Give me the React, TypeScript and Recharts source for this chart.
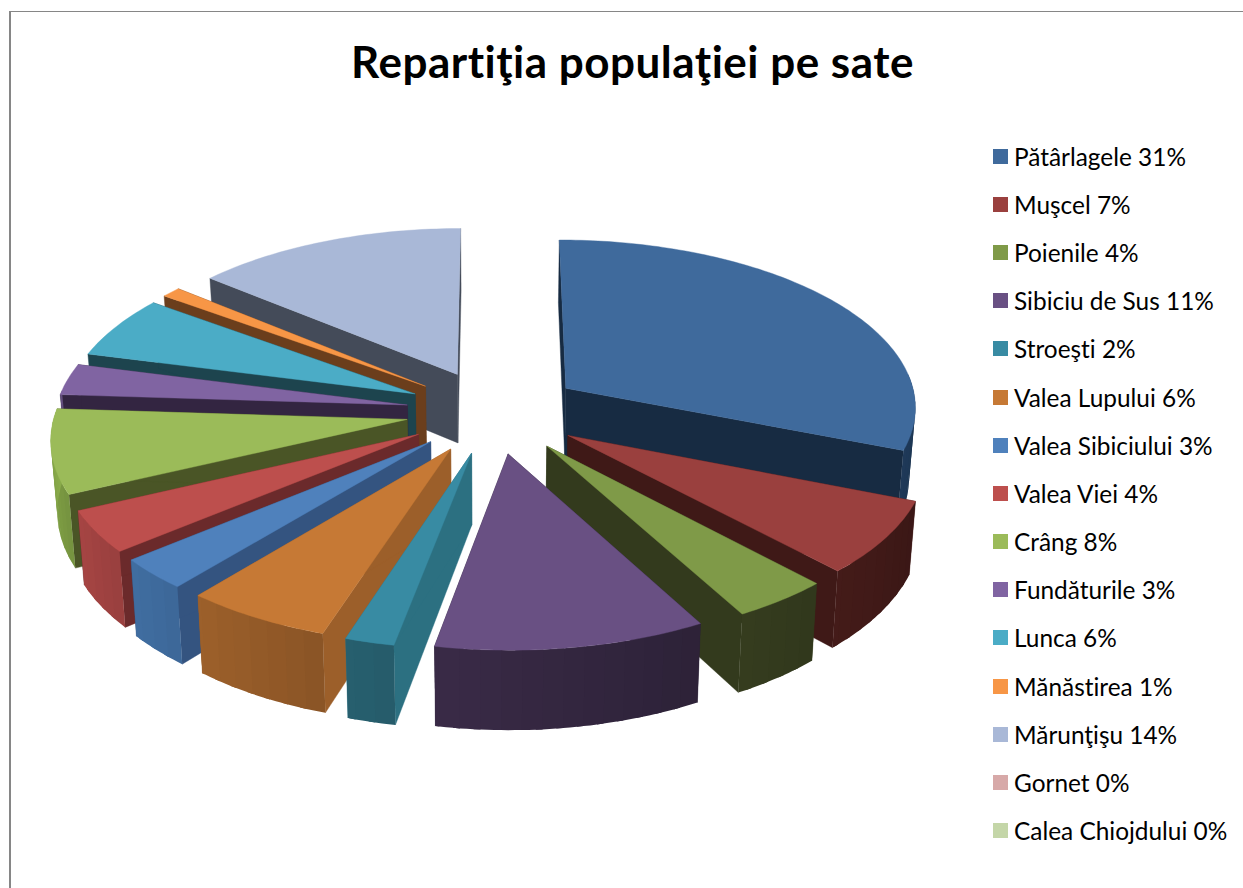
import React from "react";
import { PieChart, Pie, Legend } from "recharts";

const TITLE = "Repartiţia populaţiei pe sate";
const NAMES = ["Pătârlagele", "Muşcel", "Poienile", "Sibiciu de Sus", "Stroeşti", "Valea Lupului", "Valea Sibiciului", "Valea Viei", "Crâng", "Fundăturile", "Lunca", "Mănăstirea", "Mărunţişu", "Gornet", "Calea Chiojdului"];
const VALUES = [31, 7, 4, 11, 2, 6, 3, 4, 8, 3, 6, 1, 14, 0, 0];
const TOP_COLORS = ["#3F6A9C", "#9A403E", "#7F9A48", "#695083", "#388BA3", "#C67935", "#4F81BC", "#BD4F4D", "#9BBB59", "#8064A2", "#4BACC6", "#F79646", "#A9B8D7", "#D7A9A8", "#C4D6A8"];
const WALL_COLORS = ["#172B42", "#3F1917", "#333A1D", "#2A2137", "#2C7081", "#9C5F2A", "#345480", "#6B2A2B", "#4A5526", "#332541", "#1D444E", "#6B3E1C", "#444B59", "#888888", "#888888"];
const OUTER_COLORS = ["#172B42", "#3F1917", "#333A1D", "#33263F", "#265D6C", "#935A28", "#3E6A9C", "#9F4241", "#80A045", "#665082", "#3C8A9E", "#C67838", "#8793AC", "#888888", "#888888"];

const data = NAMES.map((name, i) => ({
  name,
  label: `${name} ${VALUES[i]}%`,
  value: VALUES[i],
  fill: TOP_COLORS[i],
  wall: WALL_COLORS[i],
  outer: OUTER_COLORS[i],
}));
const reversedData = [...data].reverse();

// 3D view of the pie
const TILT = 0.476;
const EXPLODE = 0.25;
const PERSPECTIVE = 0.1;
const DEPTH = 70;
const BOTTOM_SHRINK = 0.985;
const rad = (d: number) => (d * Math.PI) / 180;

function shade(hex: string, k: number) {
  const n = parseInt(hex.slice(1), 16);
  const c = [(n >> 16) & 255, (n >> 8) & 255, n & 255].map((v) => Math.max(0, Math.min(255, Math.round(v * k))));
  return `rgb(${c[0]},${c[1]},${c[2]})`;
}

function pathOf(pts: number[][]) {
  return "M" + pts.map((p) => `${p[0].toFixed(1)},${p[1].toFixed(1)}`).join("L") + "Z";
}

function makeSliceShape(side: "right" | "left") {
  return function SliceShape(props: any) {
    const { cx, cy, outerRadius, startAngle, endAngle } = props;
    const entry = props.payload ?? props;
    const wall = entry.wall ?? props.wall;
    const outer = entry.outer ?? props.outer;
    const fill = entry.fill ?? props.fill;
    let a = 90 - Math.max(startAngle, endAngle);
    let b = 90 - Math.min(startAngle, endAngle);
    if (a < 0) { a += 360; b += 360; }
    if (b - a < 0.01) return <g />;
    const mid = (a + b) / 2;
    if ((side === "right") !== mid < 180) return <g />;

    const ex = EXPLODE * Math.sin(rad(mid));
    const ey = -EXPLODE * Math.cos(rad(mid));
    const top = (X: number, Y: number) => {
      const wx = X + ex, wy = Y + ey, den = 1 - PERSPECTIVE * wy;
      return [cx + (wx * outerRadius) / den, cy + (wy * outerRadius * TILT) / den];
    };
    const bottom = (X: number, Y: number) => {
      const wx = X + ex, wy = Y + ey, den = 1 - PERSPECTIVE * wy;
      return [cx + (wx * outerRadius * BOTTOM_SHRINK) / den, cy + (wy * outerRadius * TILT) / den + DEPTH / den];
    };
    const rim = (t: number) => [Math.sin(rad(t)), -Math.cos(rad(t))];

    const arc: number[][] = [];
    for (let t = a; t < b; t += 1) arc.push(rim(t));
    arc.push(rim(b));

    const startR = rim(a), endR = rim(b);
    const wallPath = (r: number[]) => pathOf([top(0, 0), top(r[0], r[1]), bottom(r[0], r[1]), bottom(0, 0)]);

    // only the part of the rim that faces the viewer is drawn, in overlapping bands
    const segs: React.ReactNode[] = [];
    const step = 3;
    const from = Math.max(a, 85);
    const to = Math.min(b, 275);
    for (let t = from; t < to; t += step) {
      const t2 = Math.min(to, t + step + 1);
      const pts: number[][] = [];
      const lower: number[][] = [];
      for (let u = t; u < t2; u += 1) { const r = rim(u); pts.push(top(r[0], r[1])); lower.push(bottom(r[0], r[1])); }
      const r2 = rim(t2);
      pts.push(top(r2[0], r2[1]));
      lower.push(bottom(r2[0], r2[1]));
      const col = shade(outer, 1 + ((t + t2) / 2 - mid) * 0.006);
      segs.push(<path key={t} d={pathOf([...pts, ...lower.reverse()])} fill={col} />);
    }

    return (
      <g>
        <path d={wallPath(startR)} fill={wall} stroke={wall} strokeWidth={0.4} />
        <path d={wallPath(endR)} fill={wall} stroke={wall} strokeWidth={0.4} />
        {segs}
        <path d={pathOf([top(0, 0), ...arc.map((r) => top(r[0], r[1]))])} fill={fill} stroke={fill} strokeWidth={0.4} />
      </g>
    );
  };
}

const RightShape = makeSliceShape("right");
const LeftShape = makeSliceShape("left");

function LegendList() {
  return (
    <div style={{ fontFamily: "Lato, sans-serif", fontSize: 24.4, color: "#000", fontVariantLigatures: "none" }}>
      {data.map((d) => (
        <div key={d.name} style={{ height: 48.2, display: "flex", alignItems: "center", whiteSpace: "nowrap" }}>
          <span style={{ width: 15, height: 15, background: d.fill, marginRight: 6, flex: "none" }} />
          <span>{d.label}</span>
        </div>
      ))}
    </div>
  );
}

export default function App() {
  return (
    <div style={{ position: "absolute", left: 0, top: 0, width: 1243, height: 888, overflow: "hidden", background: "#fff" }}>
      <div style={{ position: "absolute", left: 9, top: 11, width: 1240, height: 880, borderLeft: "2px solid #868686", borderTop: "1px solid #868686" }} />
      <div style={{ position: "absolute", left: 0, top: 36, width: 1265, textAlign: "center", fontFamily: "Lato, sans-serif", fontWeight: 700, fontSize: 44, letterSpacing: 0.5, fontVariantLigatures: "none", lineHeight: "50px", color: "#000" }}>{TITLE}</div>
      <PieChart width={1243} height={888} style={{ position: "absolute", left: 0, top: 0 }}>
        <Pie data={data} dataKey="value" nameKey="name" cx={489} cy={406.5} outerRadius={352} startAngle={90} endAngle={-270} stroke="none" isAnimationActive={false} shape={RightShape} inactiveShape={RightShape} activeShape={RightShape} />
        <Pie data={reversedData} dataKey="value" nameKey="name" cx={489} cy={406.5} outerRadius={352} startAngle={90} endAngle={450} stroke="none" legendType="none" isAnimationActive={false} shape={LeftShape} inactiveShape={LeftShape} activeShape={LeftShape} />
        <Legend layout="vertical" content={() => <LegendList />} wrapperStyle={{ position: "absolute", left: 993, top: 132, width: 250 }} />
      </PieChart>
    </div>
  );
}
